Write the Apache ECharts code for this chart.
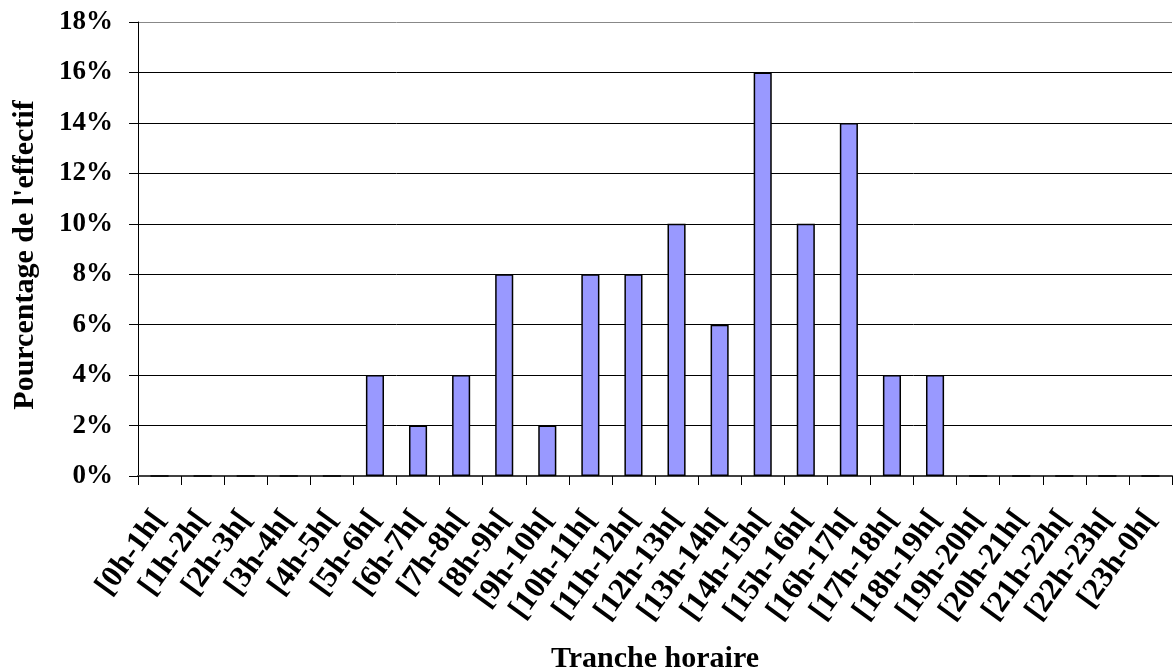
<!DOCTYPE html>
<html>
<head>
<meta charset="utf-8">
<script src="https://cdn.jsdelivr.net/npm/echarts@6/dist/echarts.min.js"></script>
<style>
  html, body { margin: 0; padding: 0; background: #fff; }
  #chart { width: 1173px; height: 670px; }
</style>
</head>
<body>
<div id="chart"></div>
<script>
// Hourly slots
const categories = [
  '[0h-1h[', '[1h-2h[', '[2h-3h[', '[3h-4h[', '[4h-5h[', '[5h-6h[',
  '[6h-7h[', '[7h-8h[', '[8h-9h[', '[9h-10h[', '[10h-11h[', '[11h-12h[',
  '[12h-13h[', '[13h-14h[', '[14h-15h[', '[15h-16h[', '[16h-17h[', '[17h-18h[',
  '[18h-19h[', '[19h-20h[', '[20h-21h[', '[21h-22h[', '[22h-23h[', '[23h-0h['
];
// Share of the workforce per slot (%)
const percentages = [0, 0, 0, 0, 0, 4, 2, 4, 8, 2, 8, 8, 10, 6, 16, 10, 14, 4, 4, 0, 0, 0, 0, 0];
// Value axis range (%)
const yMin = 0;
const yMax = 18;
const yStep = 2;

const serif = '"Liberation Serif", "Times New Roman", serif';
const chart = echarts.init(document.getElementById('chart'));

chart.setOption({
  animation: false,
  backgroundColor: '#fff',
  grid: { left: 138, top: 22, width: 1034, bottom: 194, containLabel: false, outerBoundsMode: 'none' },
  xAxis: {
    type: 'category',
    data: categories,
    name: 'Tranche horaire',
    nameLocation: 'middle',
    nameGap: 168,
    nameTextStyle: { fontFamily: serif, fontWeight: 'bold', fontSize: 30, color: '#000' },
    axisLine: { lineStyle: { color: '#404040', width: 2 } },
    axisTick: { show: true, length: 9, lineStyle: { color: '#000', width: 1 } },
    axisLabel: {
      interval: 0,
      rotate: 54,
      margin: 38,
      fontFamily: serif,
      fontWeight: 'bold',
      fontSize: 31,
      color: '#000'
    }
  },
  yAxis: {
    type: 'value',
    min: yMin,
    max: yMax,
    interval: yStep,
    name: "Pourcentage de l'effectif",
    nameLocation: 'middle',
    nameGap: 98,
    nameTextStyle: { fontFamily: serif, fontWeight: 'bold', fontSize: 30, color: '#000', padding: [0, 12, 0, 0] },
    axisLine: { show: true, lineStyle: { color: '#000', width: 1 } },
    axisTick: { show: true, length: 9, lineStyle: { color: '#000', width: 1 } },
    axisLabel: {
      margin: 25,
      formatter: '{value}%',
      fontFamily: serif,
      fontWeight: 'bold',
      fontSize: 27,
      color: '#000'
    },
    splitLine: {
      show: true,
      lineStyle: {
        color: ['#000', '#000', '#000', '#000', '#000', '#000', '#000', '#000', '#000', '#888'],
        width: 1
      }
    }
  },
  series: [{
    type: 'bar',
    data: percentages,
    barWidth: '42%',
    itemStyle: { color: '#9999ff', borderColor: '#000', borderWidth: 1.5 }
  }]
});
</script>
</body>
</html>
